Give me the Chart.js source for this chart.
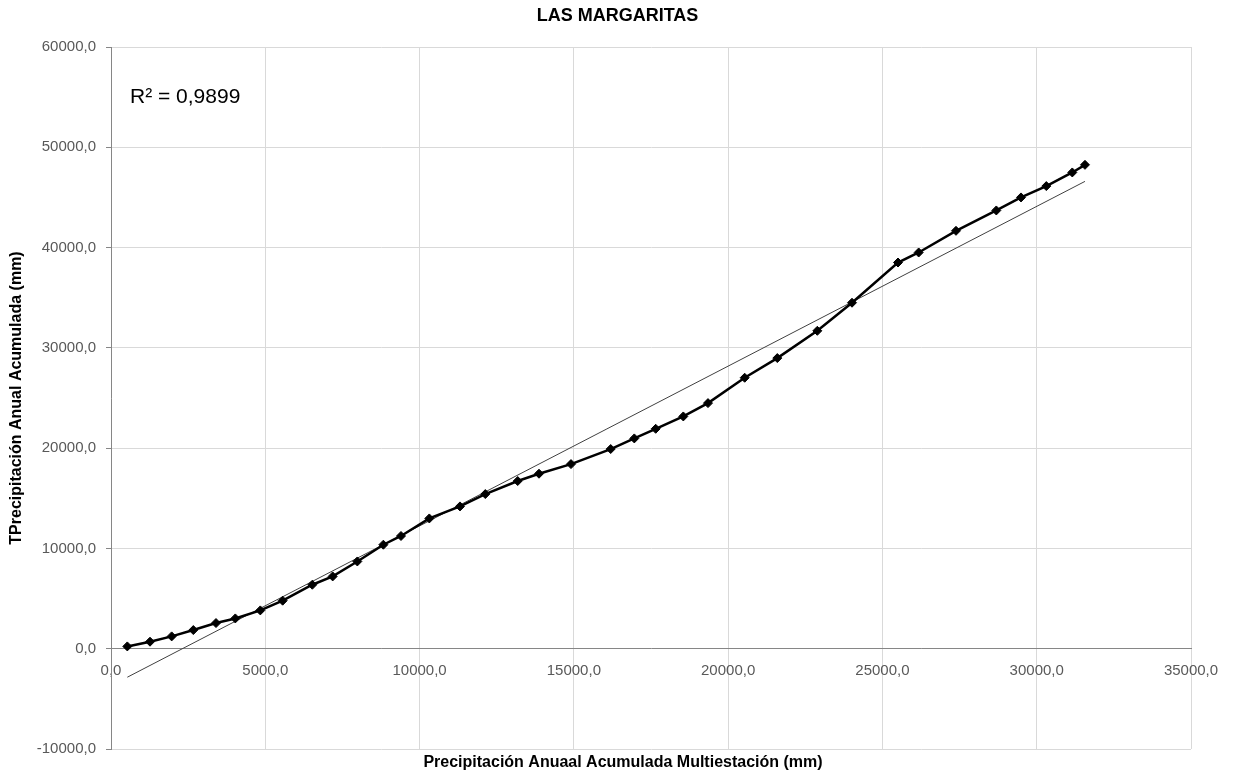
<!DOCTYPE html>
<html>
<head>
<meta charset="utf-8">
<script src="https://cdn.jsdelivr.net/npm/chart.js@4.4.1/dist/chart.umd.min.js"></script>
<style>
  html, body { margin: 0; padding: 0; background: #fff; }
  #wrap { width: 1235px; height: 780px; }
</style>
</head>
<body>
<div id="wrap"><canvas id="dobleMasa"></canvas></div>
<script>
// Datos (mm acumulados)
const acumMulti = [529, 1264, 1966, 2668, 3403, 4029, 4839, 5563, 6524, 7184,
    7983, 8826, 9398, 10316, 11310, 12130, 13180, 13870, 14907, 16194,
    16959, 17652, 18547, 19347, 20536, 21593, 22890, 24014, 25505, 26175,
    27384, 28691, 29491, 30311, 31153, 31564];
const acumEstacion = [230, 700, 1230, 1860, 2560, 3020, 3820, 4790, 6380, 7210,
    8700, 10370, 11240, 12990, 14190, 15420, 16720, 17450, 18410, 19910,
    20970, 21930, 23160, 24490, 27020, 28980, 31700, 34500, 38510, 39510,
    41670, 43700, 45000, 46130, 47490, 48250];
const titulo = 'LAS MARGARITAS';
const tituloX = 'Precipitación Anuaal Acumulada Multiestación (mm)';
const tituloY = 'TPrecipitación Anual Acumulada (mm)';
const textoR2 = 'R² = 0,9899';

// Tendencia lineal (minimos cuadrados, como Excel)
function tendencia(xs, ys) {
    const n = xs.length;
    const mx = xs.reduce((a, b) => a + b, 0) / n;
    const my = ys.reduce((a, b) => a + b, 0) / n;
    let sxy = 0, sxx = 0;
    for (let i = 0; i < n; i++) {
        sxy += (xs[i] - mx) * (ys[i] - my);
        sxx += (xs[i] - mx) * (xs[i] - mx);
    }
    const m = sxy / sxx;
    const b = my - m * mx;
    const x0 = xs[0], x1 = xs[n - 1];
    return [{ x: x0, y: m * x0 + b }, { x: x1, y: m * x1 + b }];
}

const puntos = acumMulti.map((v, i) => ({ x: v, y: acumEstacion[i] }));
const lineaTend = tendencia(acumMulti, acumEstacion);

const formato = v => Number(v).toFixed(1).replace('.', ',');
const fuente = '"Liberation Sans", Arial, sans-serif';

// Titulos y texto del R2 (posicion como en Excel)
const textos = {
    id: 'textos',
    afterDraw(chart) {
        const ctx = chart.ctx;
        const area = chart.chartArea;
        ctx.save();
        ctx.fillStyle = '#000';
        ctx.textBaseline = 'middle';
        ctx.textAlign = 'center';

        ctx.font = 'bold 18px ' + fuente;
        ctx.fillText(titulo, chart.width / 2, 16);

        ctx.font = 'bold 16px ' + fuente;
        ctx.fillText(tituloX, 623, 763);

        ctx.save();
        ctx.translate(17, 398);
        ctx.rotate(-Math.PI / 2);
        ctx.fillText(tituloY, 0, 0);
        ctx.restore();

        ctx.textAlign = 'left';
        ctx.font = '21px ' + fuente;
        ctx.fillText(textoR2, area.left + 19, 97);
        ctx.restore();
    }
};

new Chart(document.getElementById('dobleMasa'), {
    type: 'scatter',
    data: {
        datasets: [
            {
                data: puntos,
                showLine: true,
                borderColor: '#000',
                backgroundColor: '#000',
                borderWidth: 2.5,
                pointStyle: 'rectRot',
                pointRadius: 4.5,
                pointBorderWidth: 1,
                order: 1
            },
            {
                data: lineaTend,
                showLine: true,
                borderColor: '#404040',
                borderWidth: 1,
                pointRadius: 0,
                order: 2
            }
        ]
    },
    options: {
        responsive: true,
        maintainAspectRatio: false,
        animation: false,
        layout: { padding: { right: 44, left: 0, bottom: 31, top: 47 } },
        plugins: {
            legend: { display: false },
            tooltip: { enabled: false },
            title: { display: false }
        },
        scales: {
            x: {
                type: 'linear',
                position: { y: 0 },
                min: 0,
                max: 35000,
                ticks: {
                    stepSize: 5000,
                    color: '#595959',
                    font: { family: fuente, size: 15 },
                    padding: 13,
                    callback: v => formato(v)
                },
                grid: { color: '#d9d9d9', drawTicks: false },
                border: { color: '#868686' }
            },
            y: {
                type: 'linear',
                min: -10000,
                max: 60000,
                ticks: {
                    stepSize: 10000,
                    color: '#595959',
                    font: { family: fuente, size: 15 },
                    padding: 10,
                    callback: v => formato(v)
                },
                grid: { color: '#d9d9d9', tickColor: '#868686', tickLength: 5 },
                border: { color: '#868686' },
                afterFit: s => { s.width = 111; }
            }
        }
    },
    plugins: [textos]
});
</script>
</body>
</html>
